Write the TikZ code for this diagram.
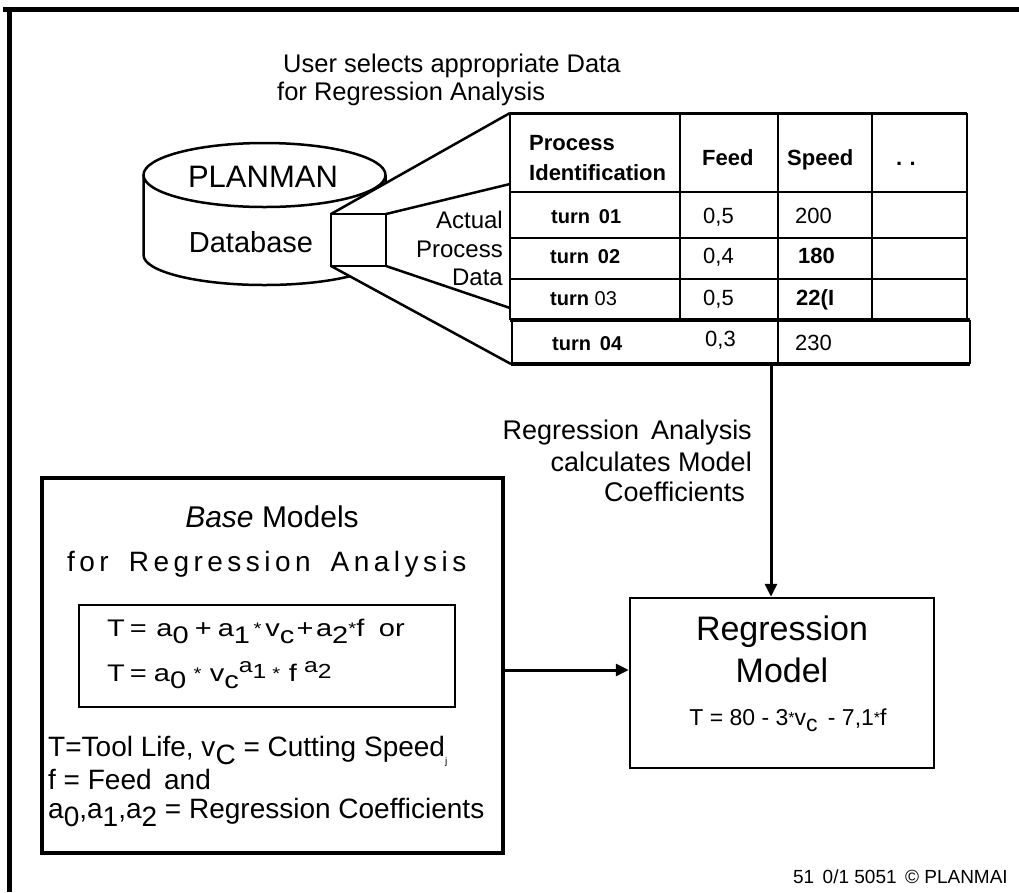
\documentclass[tikz,border=0pt]{standalone}
\usepackage{fontspec}
\setmainfont{Liberation Sans}
\newfontfamily\spacedfont[LetterSpace=16]{Liberation Sans}
\usetikzlibrary{arrows.meta}
\newcommand{\fs}[1]{\fontsize{#1pt}{#1pt}\selectfont}
\newcommand{\lo}[1]{\raisebox{-0.3em}{#1}}
\newcommand{\hi}[1]{\raisebox{0.34em}{\scalebox{0.85}{#1}}}
\newcommand{\mul}{\raisebox{0.05em}{\scalebox{0.7}{*}}}
\tikzset{
  frameline/.style={line width=5pt},
  tline/.style={line width=2.5pt},
  funnel/.style={line width=2.5pt, line join=round},
  txt/.style={inner sep=0pt, anchor=base west},
  rtxt/.style={inner sep=0pt, anchor=base east},
  ctxt/.style={inner sep=0pt, anchor=base},
  arr/.style={line width=3pt, -{Triangle[length=13pt,width=12pt]}},
}
\begin{document}
\begin{tikzpicture}[x=1pt,y=-1pt]
\useasboundingbox (0,0) rectangle (1019,892);
% frame
\draw[frameline] (3,9.5) -- (1019,9.5);
\draw[frameline] (9.5,7) -- (9.5,892);

% title
\node[txt] (t1) at (283,72) {\fs{25.5}User selects appropriate Data};
\node[txt] (t2) at (277,100) {\fs{25.5}for Regression Analysis};

% cylinder
\draw[line width=2.5pt] (264.5,175) ellipse [x radius=121pt, y radius=32pt];
\draw[line width=2.5pt] (143.5,175) -- (143.5,255) arc[start angle=180, end angle=360, x radius=121pt, y radius=30pt] -- (385.5,175);
\node[ctxt] (planman) at (263,187) {\fs{31}PLANMAN};
\node[ctxt] (db) at (251,252) {\fs{29}Database};

% funnel
\fill[white] (331,214) -- (510,113) -- (511,364) -- (331,266) -- cycle;
\coordinate (sqtl) at (331,214);
\coordinate (sqbl) at (331,266);
\coordinate (sqtr) at (386,214);
\coordinate (sqbr) at (386,266);
\draw[line width=2pt] (sqtl) rectangle (sqbr);
\coordinate (tabtl) at (510,113);
\coordinate (tabbl) at (511,364);
\draw[funnel] (sqtl) -- (tabtl);
\draw[funnel] (sqbl) -- (tabbl);
\draw[funnel] (sqtr) -- (510,184);
\draw[funnel] (sqbr) -- (510,308);
\node[rtxt] (ap1) at (503,228) {\fs{24}Actual};
\node[rtxt] (ap2) at (503,257) {\fs{24}Process};
\node[rtxt] (ap3) at (503,285) {\fs{24}Data};

% table
\draw[line width=3pt] (510,113) -- (967,113);
\draw[tline] (510,113) -- (510,320);
\draw[tline] (512,320) -- (512,364);
\draw[tline] (967,113) -- (967,320);
\draw[tline] (970,320) -- (970,364);
\draw[tline] (510,192) -- (967,192);
\draw[tline] (510,238) -- (967,238);
\draw[tline] (510,279) -- (967,279);
\draw[line width=3.5pt] (510,320) -- (970,320);
\draw[line width=3.5pt] (511,364) -- (970,364);
\draw[tline] (680,113) -- (680,320);
\draw[tline] (778,113) -- (778,364);
\draw[tline] (872,113) -- (872,320);

\node[txt] (h1a) at (529,150) {\fs{22}\bfseries Process};
\node[txt] (h1b) at (529,180) {\fs{22}\bfseries Identification};
\node[txt] (h2) at (702,165) {\fs{22}\bfseries Feed};
\node[txt] (h3) at (787,165) {\fs{22}\bfseries Speed};
\node[txt] (h4) at (896,165) {\fs{22}\bfseries .\,\,.};

\node[txt] (r1a) at (551,223) {\fs{20}\bfseries turn\, 01};
\node[txt] (r1b) at (703,223) {\fs{22}0,5};
\node[txt] (r1c) at (795,223) {\fs{22}200};
\node[txt] (r2a) at (550,263) {\fs{20}\bfseries turn\, 02};
\node[txt] (r2b) at (703,263) {\fs{22}0,4};
\node[txt] (r2c) at (798,263) {\fs{22}\bfseries 180};
\node[txt] (r3a) at (550,305) {\fs{20}\textbf{turn} 03};
\node[txt] (r3b) at (703,305) {\fs{22}0,5};
\node[txt] (r3c) at (796,305) {\fs{22}\bfseries 22(I};
\node[txt] (r4a) at (552,350) {\fs{20}\bfseries turn\, 04};
\node[txt] (r4b) at (705,346) {\fs{22}0,3};
\node[txt] (r4c) at (795,350) {\fs{22}230};

% regression analysis label
\node[rtxt] (ra1) at (752,439) {\fs{27}Regression\, Analysis};
\node[rtxt] (ra2) at (752,471) {\fs{27}calculates Model};
\node[rtxt] (ra3) at (745,501) {\fs{27}Coefficients};

% base models box
\node[draw, line width=3.5pt, minimum width=461pt, minimum height=375pt, inner sep=0pt] (base) at (272.5,665.5) {};
\node[ctxt] (bm1) at (272,527) {\fs{30}\textit{Base} Models};
\node[txt] (bm2) at (67,571) {\fs{28}\spacedfont for\hspace{20pt}Regression\hspace{20pt}Analysis};
\node[draw, line width=2pt, minimum width=376pt, minimum height=102pt, inner sep=0pt] (eqbox) at (267,656) {};
\node[txt] (eq1) at (107,636) {\fs{24}\scalebox{1.21}[1]{T\,=\hspace{8pt}a\lo{0}\hspace{5pt}+\hspace{5pt}a\lo{1}\hspace{3pt}\mul\hspace{3pt}v\lo{c}\hspace{2pt}+\hspace{2pt}a\lo{2}\mul f\hspace{12pt}or}};
\node[txt] (eq2) at (107,681) {\fs{24}\scalebox{1.21}[1]{T\,=\hspace{6pt}a\lo{0}\hspace{6pt}\mul\hspace{7pt}v\lo{c}\hi{a\lo{1}}\hspace{5pt}\mul\hspace{7pt}f\hspace{6pt}\hi{a\lo{2}}}};
\node[txt] (d1) at (48,756) {\fs{28}T=Tool Life, v\lo{C} = Cutting Speed\lo{\fs{10}j}};
\node[txt] (d2) at (48,789) {\fs{28}f = Feed\, and};
\node[txt] (d3) at (48,818) {\fs{28}a\lo{0},a\lo{1},a\lo{2} = Regression Coefficients};

% regression model box
\node[draw, line width=2.5pt, minimum width=304pt, minimum height=170pt, inner sep=0pt] (model) at (782,683) {};
\node[ctxt] (rm1) at (782,640) {\fs{34}Regression};
\node[ctxt] (rm2) at (782,682) {\fs{34}Model};
\node[ctxt] (rm3) at (788,725) {\fs{23}T = 80 - 3\mul v\lo{c}\, - 7,1\mul f};

% connectors
\coordinate (tabbot) at (771,364);
\draw[arr] (tabbot) -- (tabbot |- model.north);
\coordinate (hstart) at (503,670);
\draw[arr] (hstart) -- (hstart -| model.west);

% footer
\node[rtxt] (foot) at (1008,883) {\fs{19}51\, 0/1 5051\, © PLANMAI};
\end{tikzpicture}
\end{document}
